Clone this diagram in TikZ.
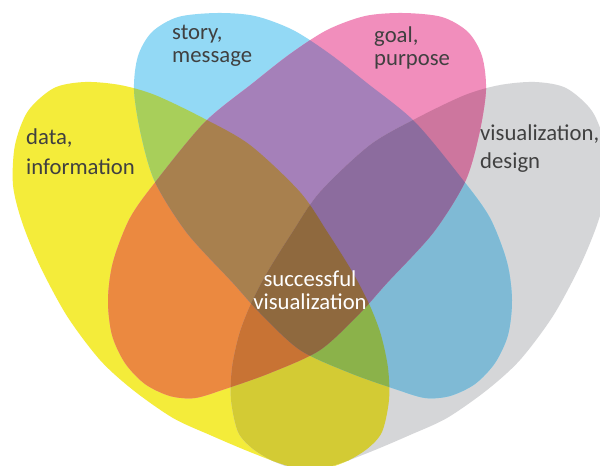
\documentclass[tikz,border=0pt]{standalone}
\usepackage{fontspec}
\setmainfont{Carlito}
\definecolor{cY}{RGB}{244,236,58}
\definecolor{cB}{RGB}{147,217,245}
\definecolor{cP}{RGB}{241,142,188}
\definecolor{cG}{RGB}{213,214,216}
\definecolor{cYB}{RGB}{168,207,90}
\definecolor{cYP}{RGB}{235,137,64}
\definecolor{cYG}{RGB}{211,203,52}
\definecolor{cBP}{RGB}{165,128,185}
\definecolor{cBG}{RGB}{127,186,213}
\definecolor{cPG}{RGB}{205,118,158}
\definecolor{cYBP}{RGB}{168,128,78}
\definecolor{cYBG}{RGB}{139,178,74}
\definecolor{cYPG}{RGB}{200,115,52}
\definecolor{cBPG}{RGB}{140,108,158}
\definecolor{cALL}{RGB}{143,105,62}
\definecolor{txt}{RGB}{64,64,64}
\begin{document}
\begin{tikzpicture}[x=1pt,y=-1pt,
  lbl/.style={inner sep=0pt,text=txt,align=left,anchor=base west},
  clbl/.style={inner sep=0pt,text=white,align=center,anchor=base}]
\def\pY{plot[smooth cycle] coordinates {(85,82) (120,85) (155,95) (203,118) (250,145) (300,192) (328,233) (353,273) (370,306) (381,335) (388,368) (389,400) (382,432) (367,449) (345,462) (318,470) (288,466) (250,452) (210,435) (173,418) (133,390) (100,360) (67,316) (40,266) (22,222) (13,185) (15,145) (28,111) (54,88)}}
\def\pG{plot[smooth cycle] coordinates {(535,82) (500,85) (465,95) (417,118) (370,145) (320,192) (292,233) (267,273) (250,306) (239,335) (232,368) (231,400) (238,432) (253,449) (275,462) (302,470) (332,466) (370,452) (410,435) (447,418) (487,390) (520,360) (553,316) (580,266) (598,222) (607,185) (605,145) (592,111) (566,88)}}
\def\pB{plot[smooth cycle] coordinates {(217,13) (255,16) (293,30) (330,54) (367,83) (415,122) (463,180) (490,218) (507,262) (512,300) (508,335) (495,363) (475,384) (450,396) (425,398) (395,389) (350,373) (300,350) (260,313) (233,283) (187,233) (155,182) (141,135) (134,90) (138,56) (152,32) (178,17)}}
\def\pP{plot[smooth cycle] coordinates {(403,13) (365,16) (327,30) (290,54) (253,83) (205,122) (157,180) (130,218) (113,262) (108,300) (112,335) (125,363) (145,384) (170,396) (195,398) (225,389) (270,373) (320,350) (360,313) (387,283) (433,233) (465,182) (479,135) (486,90) (482,56) (468,32) (442,17)}}
\useasboundingbox (0,0) rectangle (600,466);
\clip (0,0) rectangle (600,466);
\fill[white] (0,0) rectangle (600,466);
% single sets
\fill[cY] \pY;
\fill[cG] \pG;
\fill[cB] \pB;
\fill[cP] \pP;
% pairs
\begin{scope}\clip \pY; \fill[cYB] \pB; \end{scope}
\begin{scope}\clip \pY; \fill[cYP] \pP; \end{scope}
\begin{scope}\clip \pY; \fill[cYG] \pG; \end{scope}
\begin{scope}\clip \pB; \fill[cBP] \pP; \end{scope}
\begin{scope}\clip \pB; \fill[cBG] \pG; \end{scope}
\begin{scope}\clip \pP; \fill[cPG] \pG; \end{scope}
% triples
\begin{scope}\clip \pY; \clip \pB; \fill[cYBP] \pP; \end{scope}
\begin{scope}\clip \pY; \clip \pB; \fill[cYBG] \pG; \end{scope}
\begin{scope}\clip \pY; \clip \pP; \fill[cYPG] \pG; \end{scope}
\begin{scope}\clip \pB; \clip \pP; \fill[cBPG] \pG; \end{scope}
% all four
\begin{scope}\clip \pY; \clip \pB; \clip \pP; \fill[cALL] \pG; \end{scope}
% labels (anchor = baseline of the last line)
\node[lbl,font=\fontsize{22.7}{22.8}\selectfont] (story) at (172,62) {story,\\message};
\node[lbl,font=\fontsize{22.7}{30}\selectfont] (data) at (26,174) {data,\\information};
\node[lbl,font=\fontsize{22.7}{23}\selectfont] (goal) at (374,65) {goal,\\purpose};
\node[lbl,font=\fontsize{22.7}{28}\selectfont] (visdesign) at (480,168) {visualization,\\design};
\node[clbl,font=\fontsize{22.7}{22.8}\selectfont] (success) at (310,309) {successful\\visualization};
\end{tikzpicture}
\end{document}
